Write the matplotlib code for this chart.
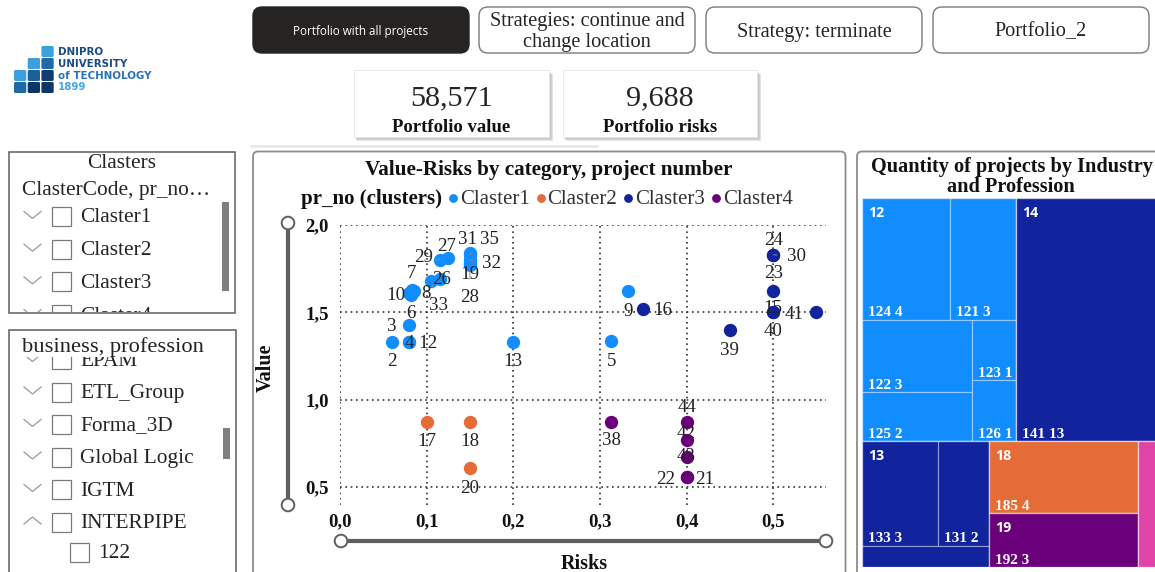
import matplotlib
matplotlib.use("Agg")
import matplotlib.pyplot as plt
from matplotlib.patches import FancyBboxPatch, Rectangle, Circle

SERIF = "Liberation Serif"
SANS = "Open Sans"

# ---------------- data ----------------
clusters = ["Claster1", "Claster2", "Claster3", "Claster4"]
cluster_colors = ["#118DFF", "#E66C37", "#12239E", "#6B007B"]

c1_projects = [2, 4, 12, 3, 10, 8, 7, 6, 33, 26, 29, 27, 31, 35, 32, 19, 28, 13, 5, 9]
c1_risks = [0.06, 0.08, 0.08, 0.08, 0.08, 0.085, 0.083, 0.082, 0.105, 0.115,
            0.115, 0.125, 0.15, 0.15, 0.15, 0.15, 0.15, 0.20, 0.313, 0.333]
c1_values = [1.33, 1.33, 1.33, 1.43, 1.61, 1.62, 1.63, 1.60, 1.68, 1.69,
             1.80, 1.81, 1.84, 1.83, 1.80, 1.78, 1.77, 1.33, 1.335, 1.62]

c2_projects = [17, 18, 20]
c2_risks = [0.10, 0.15, 0.15]
c2_values = [0.87, 0.87, 0.61]

c3_projects = [16, 39, 24, 30, 23, 15, 40, 41]
c3_risks = [0.35, 0.45, 0.50, 0.50, 0.50, 0.50, 0.50, 0.55]
c3_values = [1.52, 1.40, 1.83, 1.83, 1.62, 1.50, 1.50, 1.50]

c4_projects = [38, 44, 42, 43, 22, 21]
c4_risks = [0.313, 0.40, 0.40, 0.40, 0.40, 0.40]
c4_values = [0.87, 0.87, 0.77, 0.67, 0.555, 0.555]

x_ticks = [0.0, 0.1, 0.2, 0.3, 0.4, 0.5]
y_ticks = [0.5, 1.0, 1.5, 2.0]

kpi_values = ["58,571", "9,688"]
kpi_labels = ["Portfolio value", "Portfolio risks"]

buttons = ["Portfolio with all projects", "Strategies: continue and\nchange location",
           "Strategy: terminate", "Portfolio_2"]

claster_items = ["Claster1", "Claster2", "Claster3", "Claster4"]
business_items = ["EPAM", "ETL_Group", "Forma_3D", "Global Logic", "IGTM", "INTERPIPE"]
business_sub_items = ["122"]

industries = ["12", "14", "13", "18", "19", "16"]
industry_colors = ["#118DFF", "#12239E", "#12239E", "#E66C37", "#6B007B", "#E044A7"]
professions = {"12": ["124", "121", "122", "125", "123", "126"], "14": ["141"],
               "13": ["133", "131", "132"], "18": ["185"], "19": ["192"], "16": ["161"]}
profession_counts = {"124": 4, "121": 3, "122": 3, "125": 2, "123": 1, "126": 1,
                     "141": 13, "133": 3, "131": 2, "132": 1, "185": 4, "192": 3, "161": 1}

# nesting of the treemap tiles ("h" = side by side, "v" = stacked)
industry_layout = ("v", [("h", ["12", "14"]), ("h", ["13", ("v", ["18", "19"]), "16"])])
profession_layout = {
    "12": ("v", [("h", ["124", "121"]), ("h", [("v", ["122", "125"]), ("v", ["123", "126"])])]),
    "14": ("h", ["141"]),
    "13": ("v", [("h", ["133", "131"]), "132"]),
    "18": ("h", ["185"]),
    "19": ("h", ["192"]),
    "16": ("h", ["161"]),
}

# data-label placement around each marker (pixels) and which get leader lines
label_offsets = {
    2: (0, -18), 4: (0, 0), 12: (19, 0), 3: (-18, 0), 10: (-13, 0), 8: (12, 0),
    7: (0, 18), 6: (0, -17), 33: (8, -23), 26: (2, 2), 29: (-16, 4), 27: (-2, 14),
    31: (-2, 15), 35: (19, 17), 32: (22, -2), 19: (0, -9), 28: (0, -30), 13: (0, -18),
    5: (0, -18), 9: (0, -18), 17: (0, -17), 18: (0, -17), 20: (0, -19), 16: (20, 0),
    39: (0, -19), 24: (0, 16), 30: (23, 0), 23: (0, 20), 15: (0, 6), 40: (0, -17),
    41: (-22, 0), 38: (0, -16), 44: (0, 17), 42: (0, 8), 43: (0, 3), 22: (-21, 0),
    21: (18, 0),
}
leader_labels = {33, 29, 35, 32, 28, 30}

# ---------------- figure ----------------
W, H = 1155, 572
fig = plt.figure(figsize=(W / 100, H / 100), dpi=100)
fig.patch.set_facecolor("white")

bg = fig.add_axes([0, 0, 1, 1])
bg.set_xlim(0, W)
bg.set_ylim(H, 0)
bg.axis("off")

DY = 2  # nudges centred serif text down to its optical centre


def rbox(x, y, w, h, r, fc, ec, lw=1.0, z=1, **kw):
    p = FancyBboxPatch((x, y), w, h, boxstyle=f"round,pad=0,rounding_size={r}",
                       fc=fc, ec=ec, lw=lw, zorder=z, **kw)
    bg.add_patch(p)
    return p


# ---- logo ----
logo_cells = [  # (col, row, colour)
    (2, 0, "#3BA0DC"),
    (1, 1, "#3BA0DC"), (2, 1, "#1F6AA8"),
    (0, 2, "#3BA0DC"), (1, 2, "#1D5F96"), (2, 2, "#0F3D6E"),
    (0, 3, "#1D6AA5"), (1, 3, "#0D3666"), (2, 3, "#0D3666"),
]
for c, r, col in logo_cells:
    rbox(14 + c * 13.7, 46 + r * 12, 12.3, 11, 1.5, col, "none", lw=0, z=2)
logo_font = dict(family="DejaVu Sans", fontweight="bold", fontsize=7.4, va="center", ha="left")
bg.text(58, 52, "DNIPRO", color="#1B4A85", **logo_font)
bg.text(58, 64, "UNIVERSITY", color="#1B4A85", **logo_font)
bg.text(58, 76, "of TECHNOLOGY", color="#2A72B8", **logo_font)
bg.text(58, 87.5, "1899", color="#45A5E0", **logo_font)

# ---- buttons ----
bx = [253, 479, 706, 933]
for i, (x, label) in enumerate(zip(bx, buttons)):
    if i == 0:
        rbox(x, 7, 216, 46, 9, "#252423", "#252423", lw=1, z=2)
        bg.text(x + 108, 31, label, color="white", fontsize=8.4, family=SANS,
                ha="center", va="center", zorder=3)
    else:
        rbox(x, 7, 216, 46, 9, "white", "#7A7A7A", lw=1, z=2)
        bg.text(x + 108, 30 + DY, label, color="#252423", fontsize=14.6, family=SERIF,
                ha="center", va="center", linespacing=1.17, zorder=3)

# ---- KPI cards ----
for x, w, val, lab in zip([354, 563], [195, 194], kpi_values, kpi_labels):
    for k, a in enumerate([0.07, 0.08, 0.10]):
        bg.add_patch(Rectangle((x + 1 + k, 72 + k), w + 1, 67, fc="#000000", alpha=a,
                               lw=0, zorder=1))
    bg.add_patch(Rectangle((x, 70), w, 67, fc="white", ec="#E6E6E6", lw=0.6, zorder=2))
    bg.text(x + w / 2, 96 + DY, val, fontsize=21.8, family=SERIF, color="#252423",
            ha="center", va="center", zorder=3)
    bg.text(x + w / 2, 125 + DY, lab, fontsize=13.5, family=SERIF, fontweight="bold",
            color="#111111", ha="center", va="center", zorder=3)
bg.plot([250, 598], [146, 146], color="#E8E8E8", lw=2, zorder=1, solid_capstyle="butt")


# ---- slicers ----
ITEM_FS = 15.4


def slicer_row(x_chev, x_box, x_text, y, text, clip, up=False, chev=True):
    arts = []
    if chev:
        d = -3.5 if up else 3.5
        ln, = bg.plot([x_chev, x_chev + 8.5, x_chev + 17], [y - d - 1, y + d - 1, y - d - 1],
                      color="#9A9A9A", lw=0.9, zorder=3)
        arts.append(ln)
    bx_ = Rectangle((x_box, y - 9), 19, 19, fc="white", ec="#7A7A7A", lw=0.9, zorder=3)
    bg.add_patch(bx_)
    arts.append(bx_)
    t = bg.text(x_text, y + DY, text, fontsize=ITEM_FS, family=SERIF, color="#252423",
                ha="left", va="center", zorder=3)
    arts.append(t)
    for a in arts:
        a.set_clip_on(True)
        a.set_clip_path(clip)


# slicer 1
bg.add_patch(Rectangle((8.5, 151.5), 226.5, 161.5, fc="white", ec="#5E5E5E", lw=1.1, zorder=2))
clip1 = Rectangle((9, 152), 226, 160, fc="none", ec="none")
bg.add_patch(clip1)
bg.text(122, 162 + DY, "Clasters", fontsize=ITEM_FS, family=SERIF, color="#252423",
        ha="center", va="center", zorder=3)
bg.text(22, 188 + DY, "ClasterCode, pr_no\u2026", fontsize=ITEM_FS, family=SERIF,
        color="#252423", ha="left", va="center", zorder=3)
for i, name in enumerate(claster_items):
    slicer_row(24, 52, 80, 216 + i * 32.7, name, clip1)
bg.add_patch(Rectangle((222, 202), 7, 89, fc="#7F7F7F", lw=0, zorder=3))

# slicer 2
bg.add_patch(Rectangle((8.5, 329.5), 227.5, 260, fc="white", ec="#5E5E5E", lw=1.1, zorder=2))
clip2 = Rectangle((9, 357), 226, 216, fc="none", ec="none")
bg.add_patch(clip2)
bg.text(22, 345 + DY, "business, profession", fontsize=16.2, family=SERIF, color="#252423",
        ha="left", va="center", zorder=4)
for i, name in enumerate(business_items):
    slicer_row(24, 52, 80, 359 + i * 32.5, name, clip2, up=(name == "INTERPIPE"))
for j, name in enumerate(business_sub_items):
    slicer_row(0, 70, 98, 552 + j * 32.5, name, clip2, chev=False)
bg.add_patch(Rectangle((223, 428), 7, 31, fc="#7F7F7F", lw=0, zorder=3))

# ---- scatter panel ----
HEAD_FS = 15.2
rbox(253, 151.5, 592.5, 430, 5, "white", "#8C8C8C", lw=1.3, z=1)
bg.text(549, 168 + DY, "Value-Risks by category, project number", fontsize=HEAD_FS,
        family=SERIF, fontweight="bold", color="#111111", ha="center", va="center", zorder=3)

# legend laid out as one centred row
renderer = fig.canvas.get_renderer()
LEG_Y = 197
leg_font = dict(fontsize=15, family=SERIF, va="center", ha="left", zorder=3)
pieces = []
t0 = bg.text(0, LEG_Y + DY, "pr_no (clusters)", fontweight="bold", color="#111111", **leg_font)
pieces.append((t0, None))
for name, col in zip(clusters, cluster_colors):
    t = bg.text(0, LEG_Y + DY, name, color="#333333", **leg_font)
    pieces.append((t, col))
widths = [p[0].get_window_extent(renderer).width for p in pieces]
gap, mk = 8, 10
total = widths[0] + sum(gap + mk + w for w in widths[1:])
x = 547 - total / 2
pieces[0][0].set_x(x)
x += widths[0]
for (t, col), w in zip(pieces[1:], widths[1:]):
    bg.scatter([x + gap + 3], [LEG_Y + 1], s=40, color=col, zorder=3, lw=0)
    t.set_x(x + gap + mk)
    x += gap + mk + w

# axis sliders
SL = "#5F5F5F"
bg.plot([288, 288], [223, 505], color=SL, lw=3, zorder=3, solid_capstyle="butt")
bg.plot([341, 826], [541, 541], color=SL, lw=3, zorder=3, solid_capstyle="butt")
for cx, cy in [(288, 223), (288, 505), (341, 541), (826, 541)]:
    bg.add_patch(Circle((cx, cy), 6.3, fc="white", ec=SL, lw=1.4, zorder=4))
bg.text(266, 368, "Value", rotation=90, fontsize=14.5, family=SERIF, fontweight="bold",
        color="#111111", ha="center", va="center", zorder=3)
bg.text(584, 562 + DY, "Risks", fontsize=14.5, family=SERIF, fontweight="bold",
        color="#111111", ha="center", va="center", zorder=3)

ax = fig.add_axes([340 / W, (H - 505) / H, 486 / W, 280 / H])
ax.set_facecolor("none")
ax.set_xlim(0, 0.561)
ax.set_ylim(0.396, 2.0)
for s in ax.spines.values():
    s.set_visible(False)
ax.set_xticks(x_ticks)
ax.set_yticks(y_ticks)
ax.set_xticklabels([f"{v:.1f}".replace(".", ",") for v in x_ticks])
ax.set_yticklabels([f"{v:.1f}".replace(".", ",") for v in y_ticks])
ax.tick_params(length=0, pad=6)
ax.tick_params(axis="y", pad=8)
for lab in ax.get_xticklabels() + ax.get_yticklabels():
    lab.set_fontfamily(SERIF)
    lab.set_fontweight("bold")
    lab.set_fontsize(13.5)
    lab.set_color("#111111")
ax.grid(True, color="#333333", lw=1.2, linestyle=(0, (1, 2.2)))
ax.set_axisbelow(True)

series = [(c1_projects, c1_risks, c1_values), (c2_projects, c2_risks, c2_values),
          (c3_projects, c3_risks, c3_values), (c4_projects, c4_risks, c4_values)]
for (proj, rx, vy), col in zip(series, cluster_colors):
    ax.scatter(rx, vy, s=92, color=col, lw=0, zorder=3, clip_on=False)
for (proj, rx, vy), col in zip(series, cluster_colors):
    for p, xr, yv in zip(proj, rx, vy):
        dx, dy = label_offsets.get(p, (0, -18))
        arrow = None
        if p in leader_labels:
            arrow = dict(arrowstyle="-", color="#8A8A8A", lw=0.7, shrinkA=5, shrinkB=3)
        ax.annotate(str(p), (xr, yv), xytext=(dx, dy - DY), textcoords="offset pixels",
                    fontsize=13.6, family=SERIF, color="#222222", ha="center",
                    va="center", zorder=4, arrowprops=arrow, annotation_clip=False)

# ---- treemap panel ----
bg.add_patch(FancyBboxPatch((857, 151.5), 320, 430, boxstyle="round,pad=0,rounding_size=5",
                            fc="white", ec="#8C8C8C", lw=1.3, zorder=1))
bg.text(1012, 165 + DY, "Quantity of projects by Industry", fontsize=14.6, family=SERIF,
        fontweight="bold", color="#111111", ha="center", va="center", zorder=3)
bg.text(1011, 185 + DY, "and Profession", fontsize=14.6, family=SERIF,
        fontweight="bold", color="#111111", ha="center", va="center", zorder=3)

TX0, TY0, TW, TH = 862, 198, 297, 369
tm = fig.add_axes([TX0 / W, (H - TY0 - TH) / H, TW / W, TH / H])
tm.set_xlim(0, 1)
tm.set_ylim(1, 0)
tm.axis("off")


def node_weight(node, wf):
    if isinstance(node, str):
        return wf(node)
    return sum(node_weight(k, wf) for k in node[1])


def place(node, x0, y0, x1, y1, wf, out):
    if isinstance(node, str):
        out[node] = (x0, y0, x1, y1)
        return
    d, kids = node
    tot = sum(node_weight(k, wf) for k in kids)
    pos = x0 if d == "h" else y0
    for k in kids:
        f = node_weight(k, wf) / tot
        if d == "h":
            nx = pos + f * (x1 - x0)
            place(k, pos, y0, nx, y1, wf, out)
            pos = nx
        else:
            ny = pos + f * (y1 - y0)
            place(k, x0, pos, x1, ny, wf, out)
            pos = ny


def industry_total(ind):
    return sum(profession_counts[p] for p in professions[ind])


ind_rects = {}
place(industry_layout, 0, 0, 1, 1, industry_total, ind_rects)
edge = (1, 1, 1, 0.32)
for ind, col in zip(industries, industry_colors):
    x0, y0, x1, y1 = ind_rects[ind]
    prof_rects = {}
    place(profession_layout[ind], x0, y0, x1, y1, lambda p: profession_counts[p], prof_rects)
    for prof in professions[ind]:
        a0, b0, a1, b1 = prof_rects[prof]
        tm.add_patch(Rectangle((a0, b0), a1 - a0, b1 - b0, fc=col, ec=edge, lw=0.9))
        if (a1 - a0) * TW > 32 and (b1 - b0) * TH > 28:
            tm.annotate(f"{prof} {profession_counts[prof]}", (a0, b1), xytext=(6, 7),
                        textcoords="offset pixels", fontsize=11, family=SERIF,
                        fontweight="bold", color="white", ha="left", va="center")
    tm.add_patch(Rectangle((x0, y0), x1 - x0, y1 - y0, fc="none", ec=edge, lw=1.0))
    if (x1 - x0) * TW > 32:
        tm.annotate(ind, (x0, y0), xytext=(6, -15), textcoords="offset pixels",
                    fontsize=10.2, family=SANS, fontweight="bold", color="white",
                    ha="left", va="center")

fig.savefig("out.png", dpi=100, facecolor="white")
